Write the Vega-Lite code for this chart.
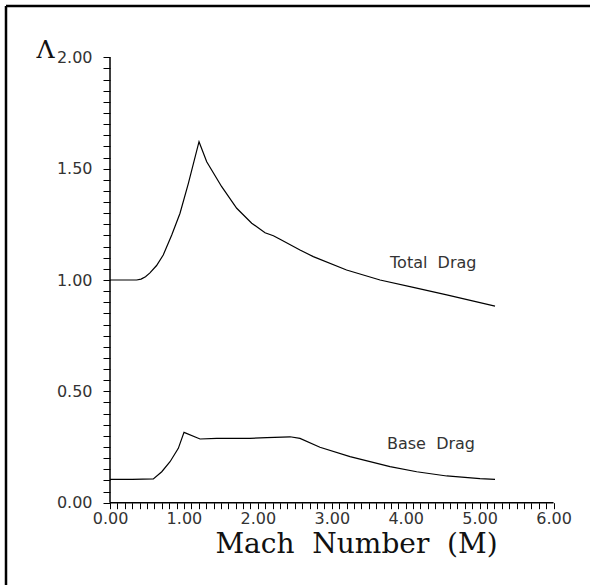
{
  "$schema": "https://vega.github.io/schema/vega-lite/v6.json",
  "autosize": {"type": "none"},
  "width": 584,
  "height": 579,
  "padding": {"left": 6, "top": 6, "right": 0, "bottom": 0},
  "background": "white",
  "config": {"view": {"stroke": null}},
  "datasets": {
    "curves": [
      {"series": "Total Drag", "mach": 0.0, "lambda": 1.0},
      {"series": "Total Drag", "mach": 0.2, "lambda": 1.0},
      {"series": "Total Drag", "mach": 0.36, "lambda": 1.0},
      {"series": "Total Drag", "mach": 0.42, "lambda": 1.004},
      {"series": "Total Drag", "mach": 0.48, "lambda": 1.015},
      {"series": "Total Drag", "mach": 0.54, "lambda": 1.032},
      {"series": "Total Drag", "mach": 0.63, "lambda": 1.065},
      {"series": "Total Drag", "mach": 0.72, "lambda": 1.112},
      {"series": "Total Drag", "mach": 0.835, "lambda": 1.202},
      {"series": "Total Drag", "mach": 0.947, "lambda": 1.3},
      {"series": "Total Drag", "mach": 1.06, "lambda": 1.434},
      {"series": "Total Drag", "mach": 1.204, "lambda": 1.621},
      {"series": "Total Drag", "mach": 1.308, "lambda": 1.531},
      {"series": "Total Drag", "mach": 1.511, "lambda": 1.419},
      {"series": "Total Drag", "mach": 1.714, "lambda": 1.322},
      {"series": "Total Drag", "mach": 1.917, "lambda": 1.255},
      {"series": "Total Drag", "mach": 2.097, "lambda": 1.212},
      {"series": "Total Drag", "mach": 2.21, "lambda": 1.199},
      {"series": "Total Drag", "mach": 2.3, "lambda": 1.183},
      {"series": "Total Drag", "mach": 2.57, "lambda": 1.135},
      {"series": "Total Drag", "mach": 2.75, "lambda": 1.105},
      {"series": "Total Drag", "mach": 3.2, "lambda": 1.045},
      {"series": "Total Drag", "mach": 3.653, "lambda": 1.0},
      {"series": "Total Drag", "mach": 4.103, "lambda": 0.967},
      {"series": "Total Drag", "mach": 4.555, "lambda": 0.933},
      {"series": "Total Drag", "mach": 5.208, "lambda": 0.883},
      {"series": "Base Drag", "mach": 0.0, "lambda": 0.105},
      {"series": "Base Drag", "mach": 0.3, "lambda": 0.105},
      {"series": "Base Drag", "mach": 0.586, "lambda": 0.107},
      {"series": "Base Drag", "mach": 0.7, "lambda": 0.139},
      {"series": "Base Drag", "mach": 0.812, "lambda": 0.184},
      {"series": "Base Drag", "mach": 0.924, "lambda": 0.244},
      {"series": "Base Drag", "mach": 1.001, "lambda": 0.316},
      {"series": "Base Drag", "mach": 1.218, "lambda": 0.286},
      {"series": "Base Drag", "mach": 1.443, "lambda": 0.289},
      {"series": "Base Drag", "mach": 1.894, "lambda": 0.289},
      {"series": "Base Drag", "mach": 2.12, "lambda": 0.292},
      {"series": "Base Drag", "mach": 2.435, "lambda": 0.296},
      {"series": "Base Drag", "mach": 2.57, "lambda": 0.289},
      {"series": "Base Drag", "mach": 2.84, "lambda": 0.249},
      {"series": "Base Drag", "mach": 3.247, "lambda": 0.207},
      {"series": "Base Drag", "mach": 3.788, "lambda": 0.162},
      {"series": "Base Drag", "mach": 4.149, "lambda": 0.139},
      {"series": "Base Drag", "mach": 4.555, "lambda": 0.12},
      {"series": "Base Drag", "mach": 5.005, "lambda": 0.108},
      {"series": "Base Drag", "mach": 5.208, "lambda": 0.105}
    ],
    "labels": [
      {"mach": 3.788, "lambda": 1.054, "label": "Total\u00a0\u00a0Drag"},
      {"mach": 3.747, "lambda": 0.241, "label": "Base\u00a0\u00a0Drag"}
    ],
    "axislines": [
      {"mach": 0, "mach2": 6, "lambda": 0, "lambda2": 0},
      {"mach": 0, "mach2": 0, "lambda": 0, "lambda2": 2}
    ],
    "frame": [
      {"mach": -1.407, "mach2": 6.493, "lambda": 2.2304, "lambda2": 2.2304},
      {"mach": -1.407, "mach2": -1.407, "lambda": -0.3696, "lambda2": 2.2304}
    ]
  },
  "encoding": {
    "x": {
      "field": "mach",
      "type": "quantitative",
      "scale": {"domain": [-1.407, 6.493], "nice": false, "zero": false},
      "axis": {
        "orient": "bottom",
        "offset": -82.31,
        "domain": false,
        "grid": false,
        "values": [0,0.1,0.2,0.3,0.4,0.5,0.6,0.7,0.8,0.9,1,1.1,1.2,1.3,1.4,1.5,1.6,1.7,1.8,1.9,2,2.1,2.2,2.3,2.4,2.5,2.6,2.7,2.8,2.9,3,3.1,3.2,3.3,3.4,3.5,3.6,3.7,3.8,3.9,4,4.1,4.2,4.3,4.4,4.5,4.6,4.7,4.8,4.9,5,5.1,5.2,5.3,5.4,5.5,5.6,5.7,5.8,5.9,6],
        "labelExpr": "abs(datum.value - round(datum.value)) < 0.001 ? format(datum.value, '.2f') : ''",
        "labelFlush": false,
        "labelOverlap": false,
        "labelFont": "DejaVu Sans",
        "labelFontSize": 16,
        "labelColor": "#333",
        "labelPadding": 2,
        "tickSize": 6,
        "tickColor": "black",
        "tickWidth": 1,
        "title": "Mach\u00a0\u00a0Number\u00a0\u00a0(M)",
        "titleFont": "DejaVu Serif",
        "titleFontSize": 28,
        "titleFontWeight": "normal",
        "titleColor": "#111",
        "titleX": 350,
        "titleY": 50,
        "titleAlign": "center",
        "titleBaseline": "alphabetic"
      }
    },
    "y": {
      "field": "lambda",
      "type": "quantitative",
      "scale": {"domain": [-0.3696, 2.2304], "nice": false, "zero": false},
      "axis": {
        "orient": "left",
        "offset": -104,
        "domain": false,
        "grid": false,
        "values": [0,0.05,0.1,0.15,0.2,0.25,0.3,0.35,0.4,0.45,0.5,0.55,0.6,0.65,0.7,0.75,0.8,0.85,0.9,0.95,1,1.05,1.1,1.15,1.2,1.25,1.3,1.35,1.4,1.45,1.5,1.55,1.6,1.65,1.7,1.75,1.8,1.85,1.9,1.95,2],
        "labelExpr": "abs(datum.value * 2 - round(datum.value * 2)) < 0.001 ? format(datum.value, '.2f') : ''",
        "labelFlush": false,
        "labelOverlap": false,
        "labelFont": "DejaVu Sans",
        "labelFontSize": 16,
        "labelColor": "#333",
        "labelPadding": 11,
        "labelBaseline": "middle",
        "tickSize": 7,
        "tickColor": "black",
        "tickWidth": 1,
        "title": "Λ",
        "titleFont": "DejaVu Serif",
        "titleFontSize": 25,
        "titleFontWeight": "normal",
        "titleColor": "#111",
        "titleAngle": 0,
        "titleX": -65,
        "titleY": 51,
        "titleAlign": "center",
        "titleBaseline": "alphabetic"
      }
    }
  },
  "layer": [
    {
      "data": {"name": "frame"},
      "mark": {"type": "rule", "color": "black", "strokeWidth": 2.5},
      "encoding": {"x2": {"field": "mach2"}, "y2": {"field": "lambda2"}}
    },
    {
      "data": {"name": "axislines"},
      "mark": {"type": "rule", "color": "black", "strokeWidth": 1.5},
      "encoding": {"x2": {"field": "mach2"}, "y2": {"field": "lambda2"}}
    },
    {
      "data": {"name": "curves"},
      "mark": {"type": "line", "color": "black", "strokeWidth": 1.2},
      "encoding": {"detail": {"field": "series"}}
    },
    {
      "data": {"name": "labels"},
      "mark": {"type": "text", "align": "left", "baseline": "alphabetic", "font": "DejaVu Sans", "fontSize": 16, "color": "#333"},
      "encoding": {"text": {"field": "label"}}
    }
  ]
}
